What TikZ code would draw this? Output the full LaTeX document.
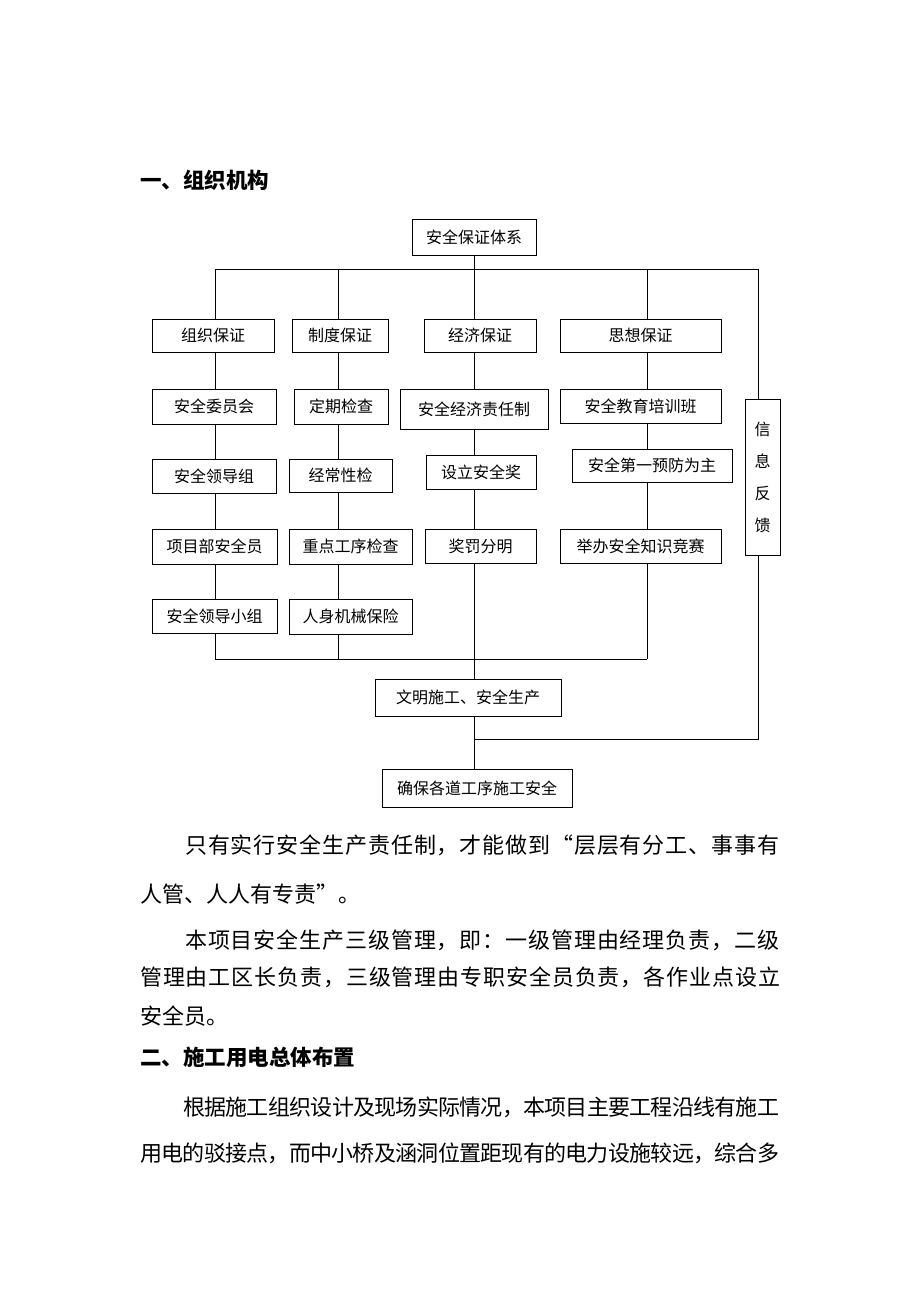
\documentclass[tikz,border=0pt]{standalone}
\usepackage{fontspec}
\setmainfont{Noto Sans CJK SC}
\def\myspreadloop#1{\ifx\relax#1\else\hskip0pt plus 1fil minus 1fil #1\expandafter\myspreadloop\fi}
\def\myspreadstart#1#2\relax{#1\myspreadloop#2\relax}
\newcommand\spreadline[2]{\hbox to #1{\myspreadstart#2\relax}}
\begin{document}
\begin{tikzpicture}[x=1pt,y=-1pt,
  box/.style={draw=black, line width=0.8pt, inner sep=0pt, fill=white,
    font=\fontsize{16}{16}\selectfont},
  conn/.style={draw=black, line width=0.8pt},
  bodyline/.style={anchor=west, inner sep=0pt, font=\fontsize{22}{22}\selectfont},
  headline/.style={anchor=west, inner sep=0pt, font=\fontsize{21.5}{22}\selectfont\bfseries}]
\useasboundingbox[fill=white] (0,0) rectangle (920,1302);

% headings and body text
\node[headline] (h1) at (140,180) {一、组织机构};
\node[bodyline] (p1) at (185,845) {\spreadline{594pt}{只有实行安全生产责任制，才能做到“层层有分工、事事有}};
\node[bodyline] (p2) at (140,894) {人管、人人有专责”。};
\node[bodyline] (p3) at (185,940) {\spreadline{594pt}{本项目安全生产三级管理，即：一级管理由经理负责，二级}};
\node[bodyline] (p4) at (140,977) {\spreadline{640pt}{管理由工区长负责，三级管理由专职安全员负责，各作业点设立}};
\node[bodyline] (p5) at (140,1016) {安全员。};
\node[headline] (h2) at (140,1057) {二、施工用电总体布置};
\node[bodyline] (p6) at (183,1107) {\spreadline{596pt}{根据施工组织设计及现场实际情况，本项目主要工程沿线有施工}};
\node[bodyline] (p7) at (140,1153) {\spreadline{639pt}{用电的驳接点，而中小桥及涵洞位置距现有的电力设施较远，综合多}};

% boxes
\node[box, minimum width=124pt, minimum height=36pt] (top) at (474,237) {安全保证体系};

\node[box, minimum width=122pt, minimum height=33pt] (a1) at (213,335.5) {组织保证};
\node[box, minimum width=96pt, minimum height=33pt] (b1) at (340,335.5) {制度保证};
\node[box, minimum width=112pt, minimum height=33pt] (c1) at (480,335.5) {经济保证};
\node[box, minimum width=161pt, minimum height=33pt] (d1) at (640.5,335.5) {思想保证};

\node[box, minimum width=124pt, minimum height=35pt] (a2) at (214,406.5) {安全委员会};
\node[box, minimum width=94pt, minimum height=35pt] (b2) at (341,406.5) {定期检查};
\node[box, minimum width=148pt, minimum height=40pt] (c2) at (474,409) {安全经济责任制};
\node[box, minimum width=161pt, minimum height=34pt] (d2) at (640.5,406) {安全教育培训班};

\node[box, minimum width=124pt, minimum height=34pt] (a3) at (214,476) {安全领导组};
\node[box, minimum width=103pt, minimum height=33pt] (b3) at (340.5,475.5) {经常性检};
\node[box, minimum width=110pt, minimum height=34pt] (c3) at (481,472) {设立安全奖};
\node[box, minimum width=160pt, minimum height=33pt] (d3) at (652,465.5) {安全第一预防为主};

\node[box, minimum width=125pt, minimum height=35pt] (a4) at (214.5,546.5) {项目部安全员};
\node[box, minimum width=123pt, minimum height=35pt] (b4) at (350.5,546.5) {重点工序检查};
\node[box, minimum width=111pt, minimum height=34pt] (c4) at (480.5,546) {奖罚分明};
\node[box, minimum width=161pt, minimum height=34pt] (d4) at (640.5,546) {举办安全知识竞赛};

\node[box, minimum width=125pt, minimum height=34pt] (a5) at (214.5,616) {安全领导小组};
\node[box, minimum width=123pt, minimum height=35pt] (b5) at (350.5,616.5) {人身机械保险};

\node[box, minimum width=186pt, minimum height=37pt] (civ) at (468,697.5) {文明施工、安全生产};
\node[box, minimum width=190pt, minimum height=38pt] (ens) at (477,788) {确保各道工序施工安全};

\node[box, minimum width=35pt, minimum height=156pt, align=center,
  font=\fontsize{16}{32}\selectfont] (fb) at (762.5,477) {信\\息\\反\\馈};

% bus coordinates
\coordinate (busL) at (215,269);
\coordinate (busR) at (758,269);
\coordinate (colA) at (215,269);
\coordinate (colB) at (338,269);
\coordinate (colC) at (474,269);
\coordinate (colD) at (647,269);
\coordinate (botL) at (215,659);
\coordinate (botR) at (647,659);
\coordinate (fbr) at (758,739);
\coordinate (fbl) at (474,739);

% connectors
\draw[conn] (top.south -| colC) -- (colC);
\draw[conn] (busL) -- (busR);

\draw[conn] (colA) -- (colA |- a1.north);
\draw[conn] (colA |- a1.south) -- (colA |- a2.north);
\draw[conn] (colA |- a2.south) -- (colA |- a3.north);
\draw[conn] (colA |- a3.south) -- (colA |- a4.north);
\draw[conn] (colA |- a4.south) -- (colA |- a5.north);
\draw[conn] (colA |- a5.south) -- (botL);

\draw[conn] (colB) -- (colB |- b1.north);
\draw[conn] (colB |- b1.south) -- (colB |- b2.north);
\draw[conn] (colB |- b2.south) -- (colB |- b3.north);
\draw[conn] (colB |- b3.south) -- (colB |- b4.north);
\draw[conn] (colB |- b4.south) -- (colB |- b5.north);
\draw[conn] (colB |- b5.south) -- (colB |- botL);

\draw[conn] (colC) -- (colC |- c1.north);
\draw[conn] (colC |- c1.south) -- (colC |- c2.north);
\draw[conn] (colC |- c2.south) -- (colC |- c3.north);
\draw[conn] (colC |- c3.south) -- (colC |- c4.north);
\draw[conn] (colC |- c4.south) -- (colC |- civ.north);

\draw[conn] (colD) -- (colD |- d1.north);
\draw[conn] (colD |- d1.south) -- (colD |- d2.north);
\draw[conn] (colD |- d2.south) -- (colD |- d3.north);
\draw[conn] (colD |- d3.south) -- (colD |- d4.north);
\draw[conn] (colD |- d4.south) -- (botR);

\draw[conn] (botL) -- (botR);

\draw[conn] (busR) -- (busR |- fb.north);
\draw[conn] (busR |- fb.south) -- (fbr) -- (fbl);

\draw[conn] (civ.south -| colC) -- (ens.north -| colC);
\end{tikzpicture}
\end{document}
